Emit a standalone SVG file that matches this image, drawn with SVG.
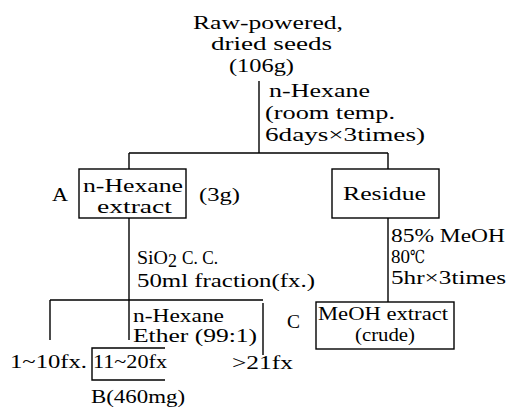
<svg xmlns="http://www.w3.org/2000/svg" width="518" height="407" viewBox="0 0 518 407">
<style>
text{font-family:"Liberation Serif","DejaVu Serif",serif;font-size:18px;fill:#000}
.ln{stroke:#000;stroke-width:1.4;fill:none}
.bx{stroke:#000;stroke-width:1.4;fill:#fff}
</style>
<rect width="518" height="407" fill="#fff"/>
<g id="connectors">
<path class="ln" d="M259,81V153"/>
<path class="ln" d="M129,153H388M129,153V169M388,153V169"/>
<path class="ln" d="M129,218V340"/>
<path class="ln" d="M50,300H263M50,300V340M263,303V355"/>
<path class="ln" d="M388,218V302"/>
</g>
<g id="seeds">
<text x="193" y="29" textLength="150" lengthAdjust="spacingAndGlyphs">Raw-powered,</text>
<text x="211" y="50" textLength="121" lengthAdjust="spacingAndGlyphs">dried seeds</text>
<text x="229" y="72" textLength="65" lengthAdjust="spacingAndGlyphs">(106g)</text>
</g>
<g id="label-hexane">
<text x="269" y="97" textLength="101" lengthAdjust="spacingAndGlyphs">n-Hexane</text>
<text x="265" y="119" textLength="130" lengthAdjust="spacingAndGlyphs">(room temp.</text>
<text x="265" y="141" textLength="160" lengthAdjust="spacingAndGlyphs">6days×3times)</text>
</g>
<g id="nodeA">
<rect class="bx" x="79" y="169" width="107" height="49"/>
<text x="83" y="192" textLength="100" lengthAdjust="spacingAndGlyphs">n-Hexane</text>
<text x="97" y="213" textLength="75" lengthAdjust="spacingAndGlyphs">extract</text>
<text x="52" y="201" textLength="16" lengthAdjust="spacingAndGlyphs">A</text>
<text x="199" y="201" textLength="41" lengthAdjust="spacingAndGlyphs">(3g)</text>
</g>
<g id="residue">
<rect class="bx" x="332" y="169" width="107" height="49"/>
<text x="343" y="200" textLength="83" lengthAdjust="spacingAndGlyphs">Residue</text>
</g>
<g id="label-sio2">
<text x="137" y="264" textLength="31" lengthAdjust="spacingAndGlyphs">SiO</text>
<text x="168" y="267" font-size="11">2</text>
<text x="182" y="264" textLength="36" lengthAdjust="spacingAndGlyphs">C. C.</text>
<text x="137" y="287" textLength="178" lengthAdjust="spacingAndGlyphs">50ml  fraction(fx.)</text>
</g>
<g id="label-meoh">
<text x="391" y="242" textLength="114" lengthAdjust="spacingAndGlyphs">85%  MeOH</text>
<text x="391" y="263" textLength="19" lengthAdjust="spacingAndGlyphs">80</text>
<text x="410" y="263" font-size="17" textLength="15" lengthAdjust="spacingAndGlyphs">℃</text>
<text x="391" y="284" textLength="115" lengthAdjust="spacingAndGlyphs">5hr×3times</text>
</g>
<g id="label-eluent">
<text x="133" y="322" textLength="91" lengthAdjust="spacingAndGlyphs">n-Hexane</text>
<text x="133" y="342" textLength="124" lengthAdjust="spacingAndGlyphs">Ether  (99:1)</text>
</g>
<g id="nodeC">
<rect class="bx" x="316" y="302" width="138" height="47"/>
<text x="318" y="320" textLength="130" lengthAdjust="spacingAndGlyphs">MeOH extract</text>
<text x="355" y="341" textLength="60" lengthAdjust="spacingAndGlyphs">(crude)</text>
<text x="287" y="328" textLength="13" lengthAdjust="spacingAndGlyphs">C</text>
</g>
<g id="fx1">
<text x="10" y="368" textLength="77" lengthAdjust="spacingAndGlyphs">1~10fx.</text>
</g>
<g id="nodeB">
<path class="ln" d="M165,348H92V380H165"/>
<text x="93" y="368" textLength="74" lengthAdjust="spacingAndGlyphs">11~20fx</text>
<text x="91" y="403" textLength="94" lengthAdjust="spacingAndGlyphs">B(460mg)</text>
</g>
<g id="fx21">
<text x="232" y="369" textLength="61" lengthAdjust="spacingAndGlyphs">&gt;21fx</text>
</g>
</svg>
